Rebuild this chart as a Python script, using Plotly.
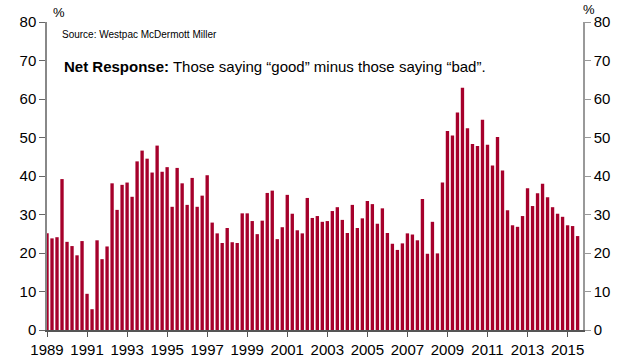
import plotly.graph_objects as go

start_year = 1989
values = [25.1, 23.8, 24.1, 39.2, 22.9, 21.8, 19.4, 23.1, 9.4, 5.4, 23.3, 18.4, 21.7, 38.1, 31.2, 37.7, 38.3, 34.6,
          43.8, 46.6, 44.5, 40.9, 47.9, 41.1, 42.3, 32.0, 42.1, 38.1, 32.5, 39.5, 32.0, 34.9, 40.2, 27.9, 25.1, 22.6,
          26.5, 22.8, 22.6, 30.3, 30.3, 28.3, 24.9, 28.4, 35.6, 36.2, 23.6, 26.7, 35.1, 30.2, 25.9, 25.1, 34.3, 29.1,
          29.6, 28.1, 28.3, 30.9, 31.9, 28.6, 25.2, 32.5, 26.5, 29.0, 33.5, 32.7, 27.6, 31.6, 25.2, 22.4, 20.8, 22.5,
          25.1, 24.8, 23.3, 34.0, 19.8, 28.1, 19.9, 38.3, 51.7, 50.5, 56.5, 62.9, 52.4, 48.3, 47.8, 54.6, 48.1, 42.7,
          50.1, 41.4, 31.1, 27.2, 26.8, 29.6, 36.8, 32.2, 35.5, 38.0, 34.5, 31.9, 30.2, 29.4, 27.2, 27.0, 24.4]
quarters = [start_year + i / 4 for i in range(len(values))]
tick_years = list(range(1989, 2016, 2))
tick_labels = [str(y) for y in tick_years]
y_ticks = list(range(0, 81, 10))

BAR = "#A6002B"
FONT = "Liberation Sans, Arial, sans-serif"

fig = go.Figure()
fig.add_trace(go.Bar(x=quarters, y=values, marker=dict(color=BAR, line=dict(width=0)),
                     hoverinfo="x+y", showlegend=False))
fig.add_trace(go.Scatter(x=[quarters[0]], y=[0], yaxis="y2", mode="markers",
                         marker=dict(opacity=0), hoverinfo="skip", showlegend=False))

fig.update_layout(
    width=626, height=364,
    margin=dict(l=47, r=43, t=22, b=34, autoexpand=False),
    paper_bgcolor="white", plot_bgcolor="white",
    bargap=0.33,
    font=dict(family=FONT, size=15, color="#000"),
    xaxis=dict(range=[1989, 2015.77], tickvals=tick_years, ticktext=tick_labels, automargin=False,
               showline=True, linecolor="#555", linewidth=1.5, ticks="outside", ticklen=5,
               tickcolor="#555", showgrid=False, zeroline=False),
    yaxis=dict(range=[0, 80], tickvals=y_ticks, showline=True, linecolor="#888", linewidth=1.5,
               automargin=False, ticks="outside", ticklen=6, tickcolor="#666", showgrid=False,
               zeroline=False),
    yaxis2=dict(range=[0, 80], tickvals=y_ticks, overlaying="y", side="right", showline=True,
                automargin=False, linecolor="#999", linewidth=1.5, ticks="outside", ticklen=6,
                tickcolor="#999", showgrid=False, zeroline=False),
    annotations=[
        dict(text="%", xref="paper", yref="paper", x=0.008, y=1.03, xanchor="left", yanchor="middle",
             showarrow=False, font=dict(size=13)),
        dict(text="%", xref="paper", yref="paper", x=1.027, y=1.042, xanchor="right", yanchor="middle",
             showarrow=False, font=dict(size=13)),
        dict(text="Source: Westpac McDermott Miller", xref="paper", yref="paper", x=0.024, y=0.961,
             xanchor="left", yanchor="middle", showarrow=False, font=dict(size=10)),
        dict(text="<b>Net Response:</b> Those saying \u201cgood\u201d minus those saying \u201cbad\u201d.",
             xref="paper", yref="paper", x=0.028, y=0.854, xanchor="left", yanchor="middle",
             showarrow=False, font=dict(size=15)),
    ],
)

fig.write_html("out.html")
